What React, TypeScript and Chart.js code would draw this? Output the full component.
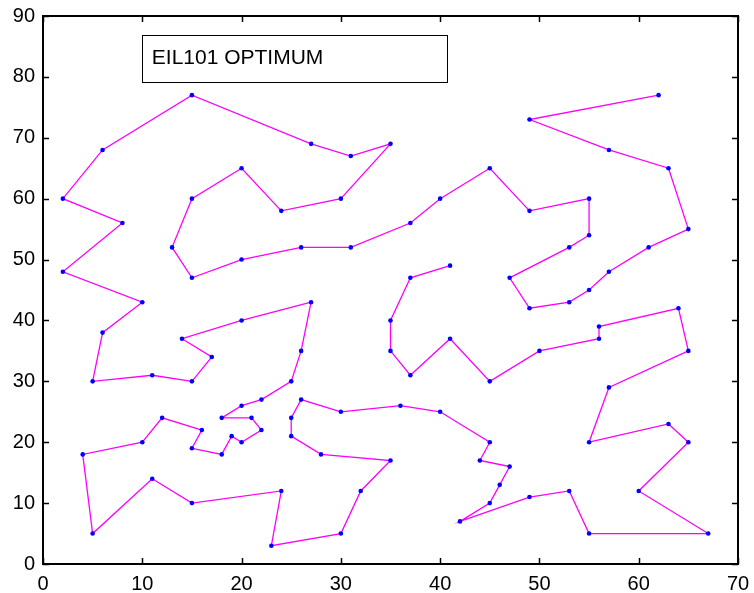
import React, { useEffect, useRef } from "react";
import { Chart, registerables } from "chart.js";

Chart.register(...registerables);

const tourX: number[] = [
  62, 49, 57, 63, 65, 61, 57, 55, 53, 49, 47, 53, 55, 55, 49, 45, 40, 37, 31, 26,
  20, 15, 13, 15, 20, 24, 30, 35, 31, 27, 15, 6, 2, 8, 2, 10, 6, 5, 11, 15,
  17, 14, 20, 27, 26, 25, 22, 20, 18, 21, 22, 20, 19, 18, 15, 16, 12, 10, 4, 5,
  11, 15, 24, 23, 30, 32, 35, 28, 25, 25, 26, 30, 36, 40, 45, 44, 47, 46, 45, 42,
  49, 53, 55, 67, 60, 65, 63, 55, 57, 65, 64, 56, 56, 50, 45, 41, 37, 35, 35, 37,
  41,
];
const tourY: number[] = [
  77, 73, 68, 65, 55, 52, 48, 45, 43, 42, 47, 52, 54, 60, 58, 65, 60, 56, 52, 52,
  50, 47, 52, 60, 65, 58, 60, 69, 67, 69, 77, 68, 60, 56, 48, 43, 38, 30, 31, 30,
  34, 37, 40, 43, 35, 30, 27, 26, 24, 24, 22, 20, 21, 18, 19, 22, 24, 20, 18, 5,
  14, 10, 12, 3, 5, 12, 17, 18, 21, 24, 27, 25, 26, 25, 20, 17, 16, 13, 10, 7,
  11, 12, 5, 5, 12, 20, 23, 20, 29, 35, 42, 39, 37, 35, 30, 37, 31, 35, 40, 47,
  49,
];
const xTicks: number[] = [0, 10, 20, 30, 40, 50, 60, 70];
const yTicks: number[] = [0, 10, 20, 30, 40, 50, 60, 70, 80, 90];
const legendLabel = "EIL101 OPTIMUM";

const FONT = "'Liberation Sans', Arial, Helvetica, sans-serif";

const framePlugin = {
  id: "framePlugin",
  afterDatasetsDraw(chart: any) {
    const { ctx, chartArea, scales } = chart;
    const { left, right, top, bottom } = chartArea;
    const xs = scales.x;
    const ys = scales.y;
    ctx.save();
    ctx.strokeStyle = "#000";
    ctx.lineWidth = 2;
    ctx.strokeRect(left, top, right - left, bottom - top);
    ctx.lineWidth = 1.5;
    const tl = 6;
    ctx.beginPath();
    xTicks.forEach((v) => {
      const px = Math.round(xs.getPixelForValue(v)) + 0.5;
      ctx.moveTo(px, bottom);
      ctx.lineTo(px, bottom - tl);
      ctx.moveTo(px, top);
      ctx.lineTo(px, top + tl);
    });
    yTicks.forEach((v) => {
      const py = Math.round(ys.getPixelForValue(v)) + 0.5;
      ctx.moveTo(left, py);
      ctx.lineTo(left + tl, py);
      ctx.moveTo(right, py);
      ctx.lineTo(right - tl, py);
    });
    ctx.stroke();

    // legend box
    const bx0 = xs.getPixelForValue(9.95);
    const bx1 = xs.getPixelForValue(40.7);
    const by0 = ys.getPixelForValue(86.9);
    const by1 = ys.getPixelForValue(79.2);
    ctx.fillStyle = "#fff";
    ctx.fillRect(bx0, by0, bx1 - bx0, by1 - by0);
    ctx.lineWidth = 1;
    ctx.strokeStyle = "#000";
    ctx.strokeRect(Math.round(bx0) + 0.5, Math.round(by0) + 0.5, Math.round(bx1 - bx0), Math.round(by1 - by0));
    ctx.fillStyle = "#000";
    ctx.font = `21px ${FONT}`;
    ctx.textBaseline = "middle";
    ctx.textAlign = "left";
    ctx.fillText(legendLabel, bx0 + 10, (by0 + by1) / 2);
    ctx.restore();
  },
};

const zeroPad = (s: any) => {
  s.paddingTop = 0;
  s.paddingBottom = 0;
  s.paddingLeft = 0;
  s.paddingRight = 0;
};

export default function App() {
  const ref = useRef<HTMLCanvasElement | null>(null);
  useEffect(() => {
    if (!ref.current) return;
    const data = tourX.map((x, i) => ({ x, y: tourY[i] }));
    const chart = new Chart(ref.current, {
      type: "scatter",
      data: {
        datasets: [
          {
            label: legendLabel,
            data,
            showLine: true,
            borderColor: "#ff00ff",
            borderWidth: 1.3,
            pointRadius: 2.3,
            pointBorderWidth: 0,
            pointBackgroundColor: "#0000ff",
            pointBorderColor: "#0000ff",
            tension: 0,
          },
        ],
      },
      options: {
        responsive: false,
        animation: false,
        maintainAspectRatio: false,
        layout: { padding: { top: 16, right: 16, left: 0, bottom: 0 } },
        plugins: { legend: { display: false }, tooltip: { enabled: false }, title: { display: false } },
        scales: {
          x: {
            type: "linear",
            min: 0,
            max: 70,
            grid: { display: false },
            border: { display: false },
            afterFit: (s: any) => {
              s.height = 29;
              zeroPad(s);
            },
            afterBuildTicks: (s: any) => {
              s.ticks = xTicks.map((v) => ({ value: v }));
            },
            ticks: {
              color: "#000",
              padding: 0,
              maxRotation: 0,
              font: { size: 20, family: FONT },
            },
          },
          y: {
            type: "linear",
            min: 0,
            max: 90,
            grid: { display: false },
            border: { display: false },
            afterFit: (s: any) => {
              s.width = 43;
              zeroPad(s);
            },
            afterBuildTicks: (s: any) => {
              s.ticks = yTicks.map((v) => ({ value: v }));
            },
            ticks: {
              color: "#000",
              padding: 0,
              font: { size: 20, family: FONT },
            },
          },
        },
      },
      plugins: [framePlugin],
    });
    return () => chart.destroy();
  }, []);
  return (
    <div style={{ position: "absolute", left: 0, top: 0, width: 754, height: 593, background: "#fff" }}>
      <canvas ref={ref} width={754} height={593} style={{ width: 754, height: 593 }} />
    </div>
  );
}
